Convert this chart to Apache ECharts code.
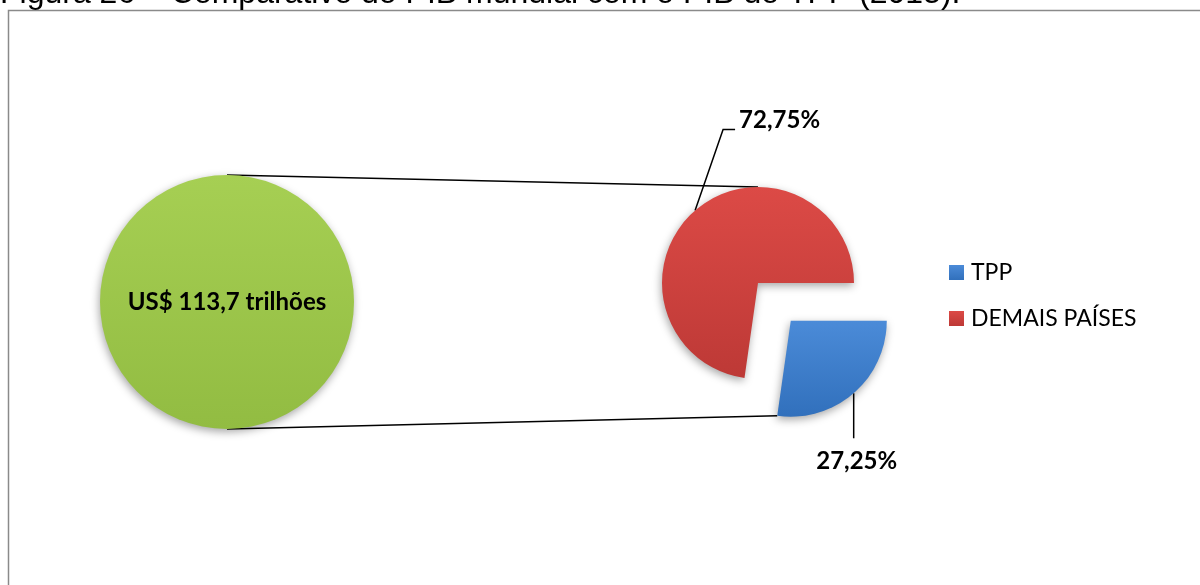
<!DOCTYPE html>
<html>
<head>
<meta charset="utf-8">
<script src="https://cdn.jsdelivr.net/npm/echarts@6/dist/echarts.min.js"></script>
<style>
  html, body { margin: 0; padding: 0; background: #ffffff; }
  #chart { width: 1200px; height: 585px; }
</style>
</head>
<body>
<div id="chart"></div>
<script>
// Data
const titleText = 'Figura 26 – Comparativo do PIB mundial com o PIB do TPP (2015).';
const worldGdpTrillions = 113.7;
const shareNames = ['DEMAIS PAÍSES', 'TPP'];
const shareValues = [72.75, 27.25];
const legendOrder = ['TPP', 'DEMAIS PAÍSES'];

// Layout
const world = { cx: 227, cy: 302, r: 127 };
const pie = { cx: 758, cy: 283, r: 96, startAngle: 0, explode: 50 };

const fmtNum = (v, d) => v.toFixed(d).replace('.', ',');

const total = shareValues.reduce((a, b) => a + b, 0);
const restDeg = shareValues[0] / total * 360;
const tppDeg = shareValues[1] / total * 360;
const tppMid = (pie.startAngle + restDeg + tppDeg / 2) * Math.PI / 180;
const tppCenter = [pie.cx + pie.explode * Math.cos(tppMid), pie.cy - pie.explode * Math.sin(tppMid)];
const tppEndRad = (pie.startAngle + restDeg) * Math.PI / 180;
const tppArcStart = [tppCenter[0] + pie.r * Math.cos(tppEndRad), tppCenter[1] - pie.r * Math.sin(tppEndRad)];

const grad = (top, bottom) => new echarts.graphic.LinearGradient(0, 0, 0, 1, [
  { offset: 0, color: top }, { offset: 1, color: bottom }
]);
const red = grad('#dc4a46', '#bd3936');
const blue = grad('#4b8bd8', '#3170bc');
const green = grad('#a6cf53', '#92bc42');
const shadow = { shadowBlur: 8, shadowColor: 'rgba(0,0,0,0.35)', shadowOffsetX: -1, shadowOffsetY: 3 };

const pctLabel = {
  show: true, position: 'outside', color: '#000',
  fontFamily: 'Lato', fontWeight: 'bold', fontSize: 24,
  formatter: p => fmtNum(p.value, 2) + '%'
};
const hidden = { label: { show: false }, labelLine: { show: false }, itemStyle: { color: 'rgba(0,0,0,0)', shadowBlur: 0 }, emphasis: { disabled: true } };

const chart = echarts.init(document.getElementById('chart'), null, { renderer: 'canvas' });
chart.setOption({
  animation: false,
  backgroundColor: '#ffffff',
  legend: {
    orient: 'vertical', left: 944, top: 256,
    data: legendOrder,
    icon: 'rect', itemWidth: 15, itemHeight: 15, itemGap: 23,
    selectedMode: false,
    textStyle: { fontFamily: 'Lato', fontSize: 23, color: '#000', padding: [0, 0, 0, 2] }
  },
  graphic: [
    { type: 'rect', silent: true, z: -10, shape: { x: 8.5, y: 10.5, width: 1400, height: 800 },
      style: { fill: 'none', stroke: '#8a8a8a', lineWidth: 1.5 } },
    { type: 'text', silent: true, x: 0, y: -6,
      style: { text: titleText, font: '32px "Liberation Sans"', fill: '#000', verticalAlign: 'middle' } },
    { type: 'line', silent: true, z: -1,
      shape: { x1: world.cx, y1: world.cy - world.r, x2: pie.cx, y2: pie.cy - pie.r },
      style: { stroke: '#000', lineWidth: 1.5 } },
    { type: 'line', silent: true, z: -1,
      shape: { x1: world.cx, y1: world.cy + world.r, x2: tppArcStart[0], y2: tppArcStart[1] },
      style: { stroke: '#000', lineWidth: 1.5 } }
  ],
  series: [
    {
      type: 'pie', name: 'world', center: [world.cx, world.cy], radius: world.r,
      silent: true, emphasis: { disabled: true },
      itemStyle: Object.assign({ color: green }, shadow),
      label: {
        show: true, position: 'center', color: '#000',
        fontFamily: 'Lato', fontWeight: 'bold', fontSize: 24,
        formatter: p => 'US$ ' + fmtNum(p.value, 1) + ' trilhões'
      },
      labelLine: { show: false },
      data: [{ name: 'PIB mundial', value: worldGdpTrillions }]
    },
    {
      type: 'pie', name: 'restShare', center: [pie.cx, pie.cy], radius: pie.r,
      startAngle: pie.startAngle, clockwise: false, avoidLabelOverlap: false,
      silent: true, emphasis: { disabled: true },
      label: pctLabel,
      labelLine: { show: true, lineStyle: { color: '#000', width: 1.5 } },
      labelLayout: p => {
        if (p.dataIndex !== 0 || !p.labelLinePoints) return;
        const a = p.labelLinePoints[0];
        return {
          x: a[0] + 44, y: a[1] - 90, align: 'left', verticalAlign: 'middle',
          labelLinePoints: [a, [a[0] + 28, a[1] - 81], [a[0] + 40, a[1] - 81]]
        };
      },
      data: [
        { name: shareNames[0], value: shareValues[0], itemStyle: Object.assign({ color: red }, shadow) },
        Object.assign({ name: '_gap', value: shareValues[1] }, hidden)
      ]
    },
    {
      type: 'pie', name: 'tppShare', center: tppCenter, radius: pie.r,
      startAngle: pie.startAngle, clockwise: false, avoidLabelOverlap: false,
      silent: true, emphasis: { disabled: true },
      label: pctLabel,
      labelLine: { show: true, lineStyle: { color: '#000', width: 1.5 } },
      labelLayout: p => {
        if (p.dataIndex !== 1 || !p.labelLinePoints) return;
        const a = p.labelLinePoints[0];
        return {
          x: a[0] + 3, y: a[1] + 68, align: 'center', verticalAlign: 'middle',
          labelLinePoints: [a, [a[0], a[1] + 22], [a[0], a[1] + 45]]
        };
      },
      data: [
        Object.assign({ name: '_rest', value: shareValues[0] }, hidden),
        { name: shareNames[1], value: shareValues[1], itemStyle: Object.assign({ color: blue }, shadow) }
      ]
    }
  ]
});
</script>
</body>
</html>
